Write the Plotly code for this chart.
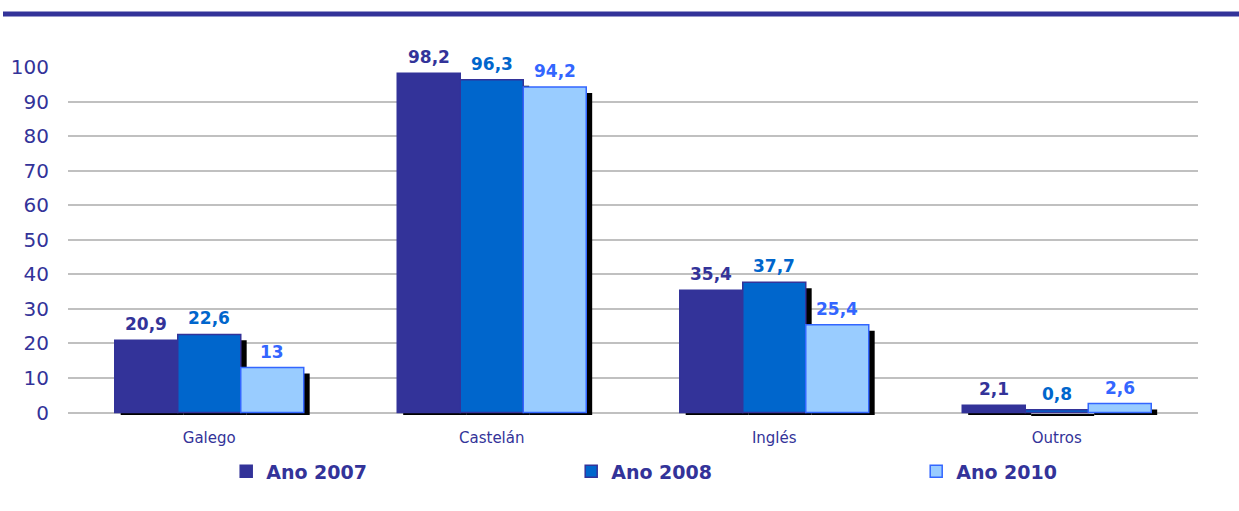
import plotly.graph_objects as go

categories = ["Galego", "Castelán", "Inglés", "Outros"]
series_names = ["Ano 2007", "Ano 2008", "Ano 2010"]
values_2007 = [20.9, 98.2, 35.4, 2.1]
values_2008 = [22.6, 96.3, 37.7, 0.8]
values_2010 = [13, 94.2, 25.4, 2.6]
y_ticks = [0, 10, 20, 30, 40, 50, 60, 70, 80, 90, 100]

series = [values_2007, values_2008, values_2010]
fills = ["#333399", "#0066CC", "#99CCFF"]
outlines = ["#333399", "#333399", "#3366FF"]
text_colors = ["#333399", "#0066CC", "#3366FF"]

W, H = 1239, 511
ml, mr, mt, mb = 68, 41, 67, 95
bw = 0.223
font = "DejaVu Sans, Verdana, sans-serif"
cat_px = (W - ml - mr) / len(categories)

fig = go.Figure()

def fmt(v):
    return ("%g" % v).replace(".", ",")

# shadows
for i, vals in enumerate(series):
    fig.add_trace(go.Bar(
        x=categories, y=[v - 1.0 for v in vals], base=-0.7,
        width=bw, offset=-1.5 * bw + i * bw + 0.021,
        marker=dict(color="#000000", line=dict(width=0)),
        showlegend=False, hoverinfo="skip",
    ))

annotations = []
for i, vals in enumerate(series):
    fig.add_trace(go.Bar(
        x=categories, y=vals, name=series_names[i],
        width=bw, offset=-1.5 * bw + i * bw,
        marker=dict(color=fills[i], line=dict(color=outlines[i], width=1.5)),
        hoverinfo="x+y",
    ))
    for c, v in zip(categories, vals):
        annotations.append(dict(
            x=c, y=v, xref="x", yref="y", text=fmt(v), showarrow=False,
            xanchor="center", yanchor="bottom",
            xshift=(i - 1) * bw * cat_px, yshift=4,
            font=dict(family=font, size=17, color=text_colors[i], weight="bold"),
        ))

fig.update_layout(
    width=W, height=H, barmode="overlay",
    margin=dict(l=ml, r=mr, t=mt, b=mb, autoexpand=False),
    plot_bgcolor="white", paper_bgcolor="white",
    font=dict(family=font, color="#333399"),
    showlegend=True,
    legend=dict(orientation="h", x=0.140, y=-0.104, xanchor="left", yanchor="top",
                entrywidth=300, entrywidthmode="pixels", itemwidth=30,
                font=dict(family=font, size=19, color="#333399", weight="bold"),
                traceorder="normal"),
    annotations=annotations,
    shapes=[dict(type="line", xref="paper", yref="paper",
                 x0=(3 - ml) / (W - ml - mr), x1=(W - ml) / (W - ml - mr),
                 y0=1 + (mt - 14) / (H - mt - mb), y1=1 + (mt - 14) / (H - mt - mb),
                 line=dict(color="#333399", width=5))],
)
fig.update_xaxes(showgrid=False, showline=False, ticks="", automargin=False,
                 ticklabelstandoff=11,
                 tickfont=dict(family=font, size=15, color="#333399"))
fig.update_yaxes(range=[-1, 100], tickvals=y_ticks, showgrid=True, automargin=False,
                 gridcolor="#C0C0C0", gridwidth=2, zeroline=False, showline=False,
                 ticks="", ticklabelstandoff=18,
                 tickfont=dict(family=font, size=20, color="#333399"))

fig.write_html("out.html", config={"displayModeBar": False},
               post_script="document.body.style.margin='0';")
